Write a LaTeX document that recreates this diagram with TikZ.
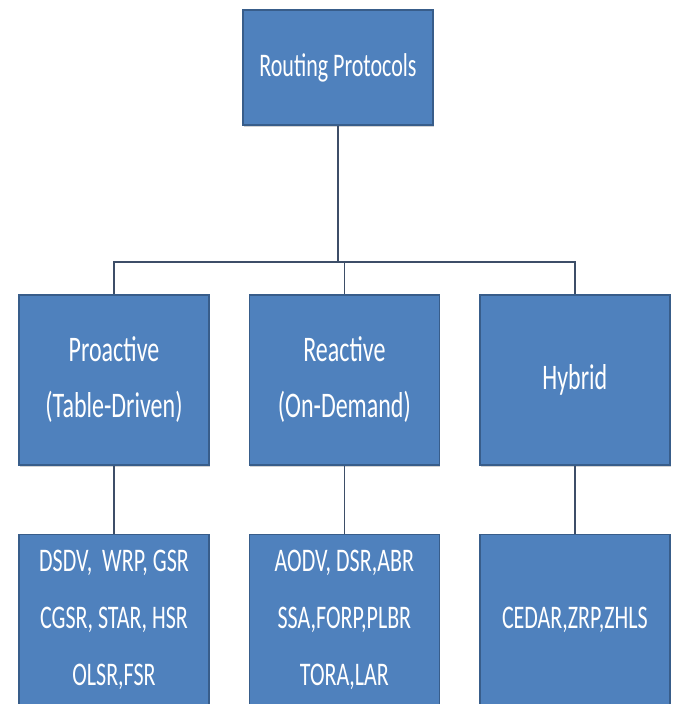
\documentclass[tikz,border=0pt]{standalone}
\usepackage{fontspec}
\setmainfont{Carlito}
\usetikzlibrary{positioning, shadows}
\definecolor{boxblue}{HTML}{4F81BD}
\definecolor{boxedge}{HTML}{385D8A}
\definecolor{linkgray}{HTML}{3D4E68}
\newcommand{\tall}[1]{\scalebox{1}[1.5]{#1}} % the labels are drawn narrow and tall
\tikzset{
x=1pt, y=-1pt, % one unit is one pixel of the sketch, y runs downwards
node distance=68pt and 39pt, % gap between the rows and between the columns
box/.style={draw=boxedge, line width=1.4pt, fill=boxblue, text=white,
  minimum width=190pt, minimum height=170pt, inner sep=0pt, align=center,
  font=\fontsize{22}{57}\selectfont,
  drop shadow={shadow xshift=1pt, shadow yshift=-2pt, opacity=0.35}}, % the blue boxes
kind/.style={box, font=\fontsize{24}{56}\selectfont}, % the middle row
link/.style={draw=linkgray, line width=1.8pt}, % the tree lines
}

\begin{document}
\begin{tikzpicture}
    \useasboundingbox (0,0) rectangle (673,704);
    \node[box, minimum height=115pt] (root) at (338,67.5) {\tall{Routing Protocols}};
    \node[kind] (pro) at (114,380) {\tall{Proactive}\\\tall{(Table-Driven)}};
    \node[kind, right=of pro] (rea) {\tall{Reactive}\\\tall{(On-Demand)}};
    \node[kind, right=of rea] (hyb) {\tall{Hybrid}};
    \node[box, below=of pro] (pro list) {\tall{DSDV,\ \ WRP, GSR}\\\tall{CGSR, STAR, HSR}\\\tall{OLSR,FSR}};
    \node[box, below=of rea] (rea list) {\tall{AODV, DSR,ABR}\\\tall{SSA,FORP,PLBR}\\\tall{TORA,LAR}};
    \node[box, below=of hyb] (hyb list) {\tall{CEDAR,ZRP,ZHLS}};
    \draw[link] (root.south) -- ++(0,136) coordinate (fork);
    \draw[link] (pro.north) |- (fork) -| (hyb.north)
    (rea.north) -- (rea.north |- fork)
    (pro) -- (pro list)
    (rea) -- (rea list)
    (hyb) -- (hyb list);
  \end{tikzpicture}
\end{document}
